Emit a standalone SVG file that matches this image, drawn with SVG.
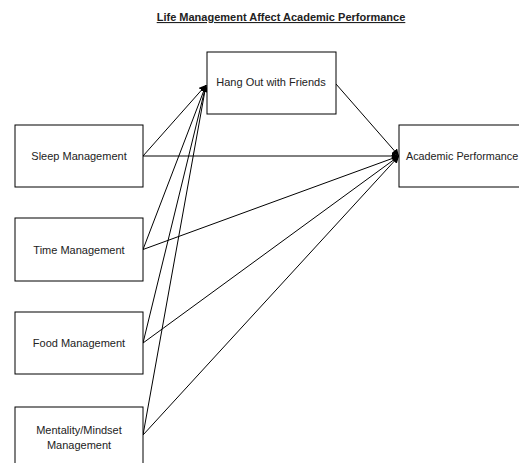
<svg xmlns="http://www.w3.org/2000/svg" width="519" height="463" viewBox="0 0 519 463">
<defs>
<style>
.box{fill:#fff;stroke:#000;stroke-width:1}
.lbl{font-family:"Liberation Sans",Arial,sans-serif;font-size:11px;fill:#222;text-anchor:middle;dominant-baseline:central}
.title{font-family:"Liberation Sans",Arial,sans-serif;font-size:11px;font-weight:bold;fill:#222;text-anchor:middle;text-decoration:underline}
.edge{stroke:#000;stroke-width:1;fill:none;marker-end:url(#arr)}
</style>
<marker id="arr" viewBox="0 0 10 10" refX="10" refY="5" markerWidth="7" markerHeight="7" markerUnits="userSpaceOnUse" orient="auto">
<path d="M0,0 L10,5 L0,10 z" fill="#000"/>
</marker>
</defs>
<rect width="519" height="463" fill="#fff"/>
<text class="title" x="281" y="21">Life Management Affect Academic Performance</text>
<g id="connectors">
<line class="edge" x1="143" y1="156" x2="206" y2="85"/>
<line class="edge" x1="143" y1="249.5" x2="206" y2="85"/>
<line class="edge" x1="143" y1="343" x2="206" y2="85"/>
<line class="edge" x1="143" y1="435" x2="206" y2="85"/>
<line class="edge" x1="143" y1="156" x2="399" y2="156"/>
<line class="edge" x1="143" y1="249.5" x2="399" y2="156"/>
<line class="edge" x1="143" y1="343" x2="399" y2="156"/>
<line class="edge" x1="143" y1="435" x2="399" y2="156"/>
<line class="edge" x1="336" y1="84" x2="399" y2="156"/>
</g>
<g id="hangout">
<rect class="box" x="207" y="52" width="129" height="62"/>
<text class="lbl" x="271" y="82">Hang Out with Friends</text>
</g>
<g id="sleep">
<rect class="box" x="15" y="125" width="128" height="62"/>
<text class="lbl" x="79" y="156">Sleep Management</text>
</g>
<g id="time">
<rect class="box" x="15" y="218" width="128" height="63"/>
<text class="lbl" x="79" y="249.5">Time Management</text>
</g>
<g id="food">
<rect class="box" x="15" y="312" width="128" height="62"/>
<text class="lbl" x="79" y="343">Food Management</text>
</g>
<g id="mentality">
<rect class="box" x="15" y="407" width="128" height="62"/>
<text class="lbl" x="79" y="430">Mentality/Mindset</text>
<text class="lbl" x="79" y="445">Management</text>
</g>
<g id="academic">
<rect class="box" x="399" y="125" width="129" height="62"/>
<text class="lbl" x="406" y="156" style="text-anchor:start;font-size:10.8px">Academic Performance</text>
</g>
</svg>
